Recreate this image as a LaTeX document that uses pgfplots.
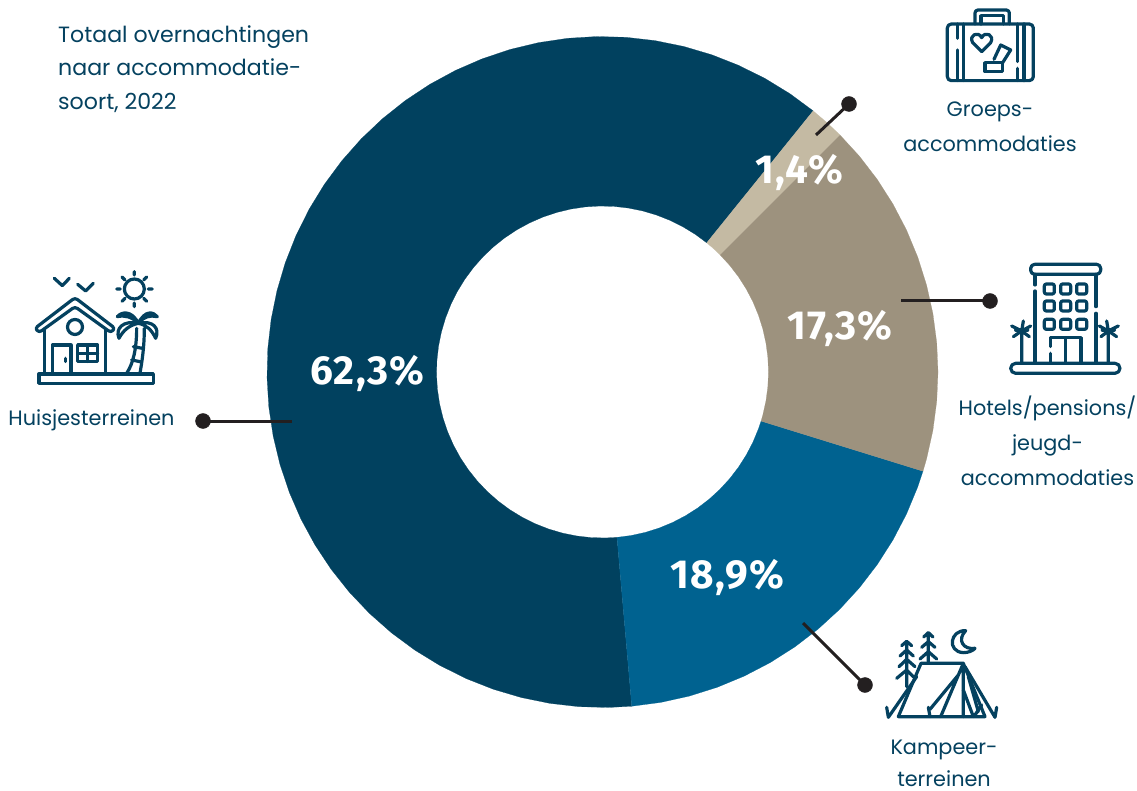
\documentclass[border=0pt]{standalone}
\usepackage{pgfplots}
\pgfplotsset{compat=1.18}
\usepackage{fontspec}
\setmainfont{Poppins}
\newfontfamily\pctfont{Fira Sans}[LetterSpace=3]
\definecolor{dark}{HTML}{01415F}
\definecolor{blue}{HTML}{006290}
\definecolor{taupe}{HTML}{9D927E}
\definecolor{beige}{HTML}{C4BAA3}
\definecolor{ink}{HTML}{04415F}
\definecolor{lead}{HTML}{231F20}
\begin{document}
\begin{tikzpicture}[x=1pt,y=1pt]
\path[use as bounding box] (0,0) rectangle (1137,791);
\begin{axis}[at={(0,0)},anchor=south west,scale only axis,width=1137pt,height=791pt,
  xmin=0,xmax=1137,ymin=0,ymax=791,y dir=reverse,hide axis,clip=false]
\pgfplotsset{ring/.style={table/x expr=602.5+\thisrow{r}*cos(\thisrow{a}),table/y expr=372-\thisrow{r}*sin(\thisrow{a}),table/row sep=\\}}
% 62,3 %
\addplot[ring,fill=dark,draw=dark,line width=.2pt] table {
a r\\
51.1 335.5\\56 335.5\\61 335.5\\66 335.5\\71 335.5\\76 335.5\\81 335.5\\86 335.5\\91 335.5\\96 335.5\\101 335.5\\106 335.5\\111 335.5\\116 335.5\\121 335.5\\126 335.5\\131 335.5\\136 335.5\\141 335.5\\146 335.5\\151 335.5\\156 335.5\\161 335.5\\166 335.5\\171 335.5\\176 335.5\\181 335.5\\186 335.5\\191 335.5\\196 335.5\\201 335.5\\206 335.5\\211 335.5\\216 335.5\\221 335.5\\226 335.5\\231 335.5\\236 335.5\\241 335.5\\246 335.5\\251 335.5\\256 335.5\\261 335.5\\266 335.5\\271 335.5\\275 335.5\\
275 166\\271 166\\266 166\\261 166\\256 166\\251 166\\246 166\\241 166\\236 166\\231 166\\226 166\\221 166\\216 166\\211 166\\206 166\\201 166\\196 166\\191 166\\186 166\\181 166\\176 166\\171 166\\166 166\\161 166\\156 166\\151 166\\146 166\\141 166\\136 166\\131 166\\126 166\\121 166\\116 166\\111 166\\106 166\\101 166\\96 166\\91 166\\86 166\\81 166\\76 166\\71 166\\66 166\\61 166\\56 166\\51.1 166\\
} -- cycle;
% 18,9 %
\addplot[ring,fill=blue,draw=blue,line width=.2pt] table {
a r\\
275 335.5\\280 335.5\\285 335.5\\290 335.5\\295 335.5\\300 335.5\\305 335.5\\310 335.5\\315 335.5\\320 335.5\\325 335.5\\330 335.5\\335 335.5\\340 335.5\\342.8 335.5\\
342.8 166\\340 166\\335 166\\330 166\\325 166\\320 166\\315 166\\310 166\\305 166\\300 166\\295 166\\290 166\\285 166\\280 166\\275 166\\
} -- cycle;
% 17,3 %
\addplot[ring,fill=taupe,draw=taupe,line width=.2pt] table {
a r\\
342.8 335.5\\345 335.5\\350 335.5\\355 335.5\\360 335.5\\365 335.5\\370 335.5\\375 335.5\\380 335.5\\385 335.5\\390 335.5\\395 335.5\\400 335.5\\405 335.5\\
405 166\\400 166\\395 166\\390 166\\385 166\\380 166\\375 166\\370 166\\365 166\\360 166\\355 166\\350 166\\345 166\\342.8 166\\
} -- cycle;
% 1,4 %
\addplot[ring,fill=beige,draw=beige,line width=.2pt] table {
a r\\
45 335.5\\48 335.5\\51.1 335.5\\51.1 166\\48 166\\45 166\\
} -- cycle;
% leaders
\addplot[lead,line width=3pt,no marks] coordinates {(816,135)(849,104)};
\addplot[lead,line width=3pt,no marks] coordinates {(901,301)(990,301)};
\addplot[lead,line width=3pt,no marks] coordinates {(803,623)(865,685)};
\addplot[lead,line width=3pt,no marks] coordinates {(292,421)(203,421)};
\addplot[only marks,mark=*,mark size=7.5pt,mark options={fill=lead,draw=lead}] coordinates {(849,104)(990,301)(865,685)(203,421)};
\end{axis}
\begin{scope}[shift={(0,791)},x=1pt,y=-1pt]
\tikzset{pct/.style={white,font=\pctfont\bfseries\fontsize{40.5}{40}\selectfont,anchor=base,inner sep=0pt},
  tx/.style={ink,anchor=base west,inner sep=0pt,font=\fontsize{22.1}{22}\selectfont},txc/.style={ink,anchor=base,inner sep=0pt,font=\fontsize{20.8}{22}\selectfont}}
\node[pct] at (367.5,385) {62,3\%};
\node[pct] at (727.5,589) {18,9\%};
\node[pct] at (840,340) {17,3\%};
\node[pct] at (799.5,184) {1,4\%};
\node[tx] at (58,43) {Totaal overnachtingen};
\node[tx] at (58,76) {naar accommodatie-};
\node[tx] at (58,110) {soort, 2022};
\node[txc] at (990,117) {Groeps-};
\node[txc] at (990,152) {accommodaties};
\node[txc] at (1047.5,416) {Hotels/pensions/};
\node[txc] at (1047.5,451) {jeugd-};
\node[txc] at (1047.5,486) {accommodaties};
\node[txc] at (944,755) {Kampeer-};
\node[txc] at (944,787) {terreinen};
\node[txc] at (91.5,426) {Huisjesterreinen};
\tikzset{ic/.style={draw=ink,line width=3.2pt,line cap=round,line join=round}}
% suitcase
\begin{scope}[shift={(920,0)},x=.3333pt,y=-.3333pt]
\draw[ic,rounded corners=4pt] (82,72) rectangle (340,242);
\draw[ic,rounded corners=3pt] (165,72)--(165,30)--(268,30)--(268,72);
\draw[ic] (183,72)--(183,47)--(250,47)--(250,72);
\draw[ic] (112,72)--(112,115) (112,150)--(112,242) (130,72)--(130,242);
\draw[ic] (292,72)--(292,185) (292,205)--(292,242) (312,72)--(312,242);
\draw[ic] (185,155)--(158,128) .. controls (145,105) and (175,92) .. (185,113) .. controls (195,92) and (225,105) .. (212,128) -- cycle;
\draw[ic] (195,188) rectangle (247,215);
\draw[ic] (222,178)--(242,135)--(272,150)--(248,188);
\end{scope}
% hotel
\begin{scope}[shift={(1000,255)},x=.3333pt,y=-.3333pt]
\draw[ic,rounded corners=4pt] (92,28) rectangle (302,58);
\draw[ic] (105,58)--(105,90) (105,108)--(105,322) (288,58)--(288,155) (288,175)--(288,322);
\foreach \y in {102,153,208}{\foreach \x in {148,197,245}{
  \draw[ic,rounded corners=2pt] (\x-15,\y-15) rectangle (\x+15,\y+15);}}
\draw[ic] (152,322)--(152,295) (152,275)--(152,248)--(243,248)--(243,322) (197,248)--(197,322);
\draw[ic,rounded corners=5pt] (32,325) rectangle (360,355);
\draw[ic] (65,322)--(65,228) (35,213)--(65,228)--(92,213) (40,245)--(65,228)--(88,245) (65,228)--(70,198);
\draw[ic,line width=4pt] (48,225)--(82,225);
\draw[ic] (325,322)--(325,228) (298,213)--(325,228)--(355,213) (303,245)--(325,228)--(350,245) (325,228)--(320,198);
\draw[ic,line width=4pt] (308,225)--(342,225);
\end{scope}
% tent
\begin{scope}[shift={(875,620)},x=.3333pt,y=-.3333pt]
\draw[ic] (70,290)--(138,130)--(265,130)--(330,290)--cycle;
\draw[ic] (265,130)--(265,290) (265,130)--(197,290) (250,165)--(165,268) (160,262)--(165,290);
\draw[ic] (265,210)--(295,290) (280,170)--(310,275)(320,255)--(300,285);
\draw[ic] (40,292)--(125,170) (35,262)--(40,292);
\draw[ic] (360,292)--(270,140) (365,262)--(360,292);
\draw[ic] (95,65)--(95,200) (80,77)--(95,64)--(110,77) (75,108)--(95,90)--(115,108) (72,140)--(95,118)--(120,140) (65,175)--(95,150)--(115,170);
\draw[ic] (160,40)--(160,125) (146,51)--(160,38)--(174,51) (140,82)--(160,65)--(180,82) (135,117)--(160,95)--(185,117);
\draw[ic] (272,32) .. controls (225,30) and (215,95) .. (265,98) .. controls (280,98) and (295,92) .. (300,85) .. controls (265,90) and (245,60) .. (272,32) -- cycle;
\end{scope}
% house
\begin{scope}[shift={(25,265)},x=.3333pt,y=-.3333pt]
\draw[ic] (42,327) rectangle (385,355);
\draw[ic,rounded corners=3pt] (30,190)--(150,98)--(270,190)--(258,203)--(150,125)--(42,203)--cycle;
\draw[ic] (58,192)--(58,327) (242,192)--(242,327);
\draw[ic] (150,186) circle[radius=7.5pt];
\draw[ic] (82,327)--(82,240)--(138,240)--(138,327) (122,280)--(122,290);
\draw[ic] (158,240) rectangle (218,290) (188,240)--(188,290) (158,265)--(218,265);
\draw[ic] (88,40)--(112,62)--(133,40) (158,58)--(182,78)--(205,55);
\draw[ic] (328,72) circle[radius=10pt];
\draw[ic] (328,20)--(328,30) (328,114)--(328,125) (275,72)--(286,72) (370,72)--(382,72) (291,36)--(300,45) (365,36)--(356,45) (291,109)--(300,100) (365,109)--(356,100);
\draw[ic] (335,190) .. controls (335,250) and (325,295) .. (305,325) (358,190) .. controls (358,250) and (350,295) .. (345,325) (325,245)--(352,250) (320,285)--(345,290);
\draw[ic] (340,175) .. controls (320,135) and (290,140) .. (277,155) .. controls (300,150) and (320,155) .. (340,175) (340,175) .. controls (360,135) and (385,140) .. (397,155) .. controls (375,150) and (355,155) .. (340,175) (340,175) .. controls (295,165) and (270,190) .. (282,220) .. controls (295,195) and (315,180) .. (340,175) (340,175) .. controls (385,165) and (405,190) .. (392,220) .. controls (380,195) and (365,180) .. (340,175);
\end{scope}
\end{scope}
\end{tikzpicture}
\end{document}
